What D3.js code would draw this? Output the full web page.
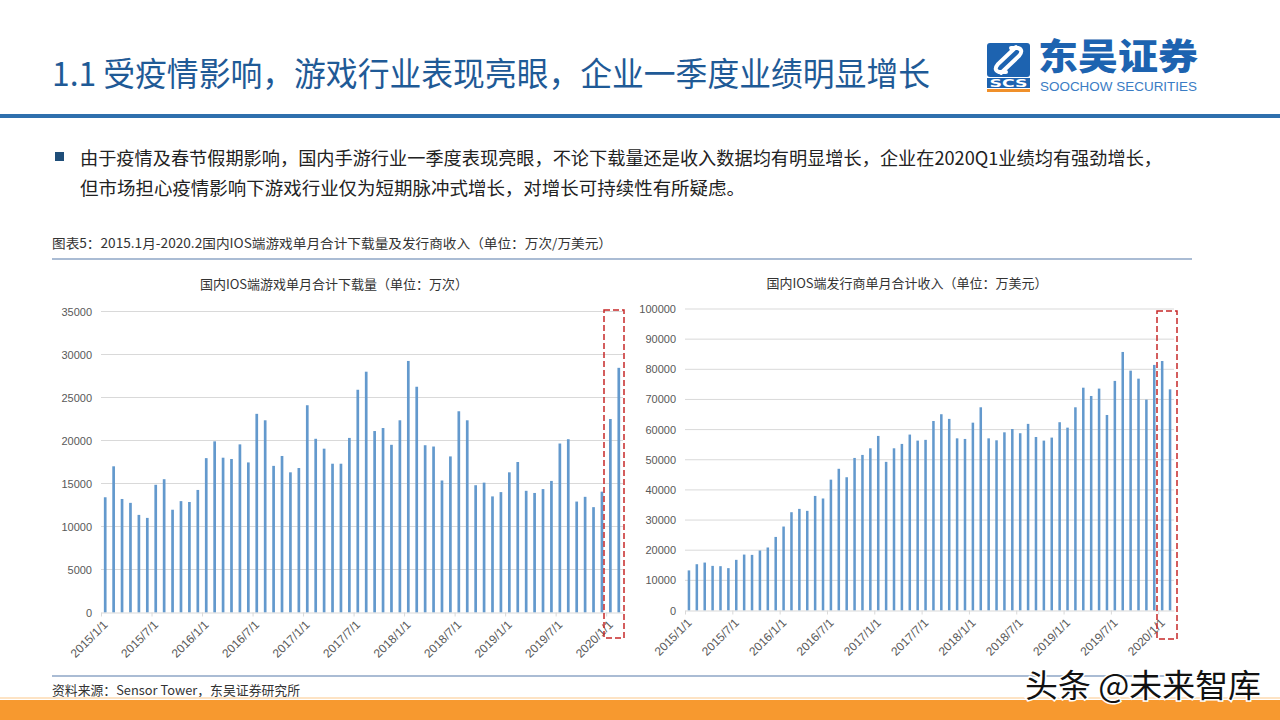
<!DOCTYPE html>
<html>
<head>
<meta charset="utf-8">
<script src="https://cdn.jsdelivr.net/npm/d3@7"></script>
<style>
  html, body { margin: 0; padding: 0; background: #fff; }
  svg { display: block; font-family: "Noto Sans CJK SC", "Noto Sans", sans-serif; }
</style>
</head>
<body>
<div id="page"></div>
<script>
// months 2015/1 .. 2020/2
var months = [
  "2015/1","2015/2","2015/3","2015/4","2015/5","2015/6","2015/7","2015/8","2015/9","2015/10","2015/11","2015/12",
  "2016/1","2016/2","2016/3","2016/4","2016/5","2016/6","2016/7","2016/8","2016/9","2016/10","2016/11","2016/12",
  "2017/1","2017/2","2017/3","2017/4","2017/5","2017/6","2017/7","2017/8","2017/9","2017/10","2017/11","2017/12",
  "2018/1","2018/2","2018/3","2018/4","2018/5","2018/6","2018/7","2018/8","2018/9","2018/10","2018/11","2018/12",
  "2019/1","2019/2","2019/3","2019/4","2019/5","2019/6","2019/7","2019/8","2019/9","2019/10","2019/11","2019/12",
  "2020/1","2020/2"
];

// 下载量 (万次)
var downloads = [
  13400,17000,13200,12750,11350,11000,14850,15500,11950,12950,12850,14250,
  17950,19900,18000,17850,19550,17450,23100,22350,17050,18200,16300,16800,
  24100,20200,19050,17300,17300,20300,25900,28000,21100,21450,19500,22350,
  29250,26250,19450,19300,15350,18150,23400,22350,14800,15100,13500,14000,
  16300,17500,14150,13900,14350,15300,19650,20150,12900,13450,12250,14050,
  22500,28450
];

// 收入 (万美元)
var revenue = [
  13300,15350,15900,14800,14700,14050,16800,18550,18450,19900,20900,24400,
  27850,32600,33700,33050,38000,37150,43400,47000,44200,50600,51600,53800,
  57900,49300,53800,55250,58350,56350,56600,62850,65100,63550,57100,56900,
  62300,67400,57100,56450,59100,60200,58800,61900,57550,56350,57350,62450,
  60650,67400,73900,71150,73600,64850,76150,85750,79550,76900,69950,81450,
  82750,73350
];

var xTickLabels = ["2015/1/1","2015/7/1","2016/1/1","2016/7/1","2017/1/1","2017/7/1",
                   "2018/1/1","2018/7/1","2019/1/1","2019/7/1","2020/1/1"];
var yTicksLeft = [0,5000,10000,15000,20000,25000,30000,35000];
var yTicksRight = [0,10000,20000,30000,40000,50000,60000,70000,80000,90000,100000];

var svg = d3.select('#page').append('svg').attr('width', 1280).attr('height', 720);

// ---- header ----
svg.append('text').attr('x', 52).attr('y', 86)
  .attr('font-size', 33).attr('fill', '#1f5a96')
  .attr('textLength', 878).attr('lengthAdjust', 'spacingAndGlyphs')
  .text('1.1 受疫情影响，游戏行业表现亮眼，企业一季度业绩明显增长');

svg.append('rect').attr('x', 0).attr('y', 114).attr('width', 1280).attr('height', 4).attr('fill', '#2e6fad');

// logo
var logo = svg.append('g');
logo.append('rect').attr('x', 987).attr('y', 43).attr('width', 43).attr('height', 34).attr('rx', 3).attr('fill', '#1d63b0');
logo.append('path')
  .attr('d', 'M1016,47 L998,64 Q993,70 999,72 L1006,72 M1001,73 L1019,56 Q1024,50 1018,48 L1011,48')
  .attr('stroke', '#fff').attr('stroke-width', 4).attr('fill', 'none').attr('stroke-linecap', 'round');
logo.append('rect').attr('x', 987).attr('y', 78).attr('width', 43).attr('height', 10).attr('fill', '#1d63b0');
logo.append('text').attr('x', 1008.5).attr('y', 87).attr('text-anchor', 'middle')
  .attr('font-size', 11).attr('font-weight', 900).attr('fill', '#fff')
  .attr('font-family', 'DejaVu Sans').attr('textLength', 38).attr('lengthAdjust', 'spacingAndGlyphs').text('SCS');
logo.append('rect').attr('x', 987).attr('y', 89).attr('width', 43).attr('height', 3).attr('fill', '#f0902a');
logo.append('text').attr('x', 1038).attr('y', 70)
  .attr('font-size', 36).attr('font-weight', 900).attr('fill', '#1d63b0')
  .attr('textLength', 160).attr('lengthAdjust', 'spacingAndGlyphs').text('东吴证券');
logo.append('text').attr('x', 1040).attr('y', 91)
  .attr('font-size', 13).attr('fill', '#3a7cc4').attr('font-family', 'Liberation Sans')
  .attr('textLength', 157).attr('lengthAdjust', 'spacingAndGlyphs').text('SOOCHOW SECURITIES');

// bullet text
svg.append('rect').attr('x', 55).attr('y', 152).attr('width', 9).attr('height', 9).attr('fill', '#1f4e79');
svg.append('text').attr('x', 80).attr('y', 165).attr('font-size', 18).attr('fill', '#222')
  .attr('textLength', 1082).attr('lengthAdjust', 'spacingAndGlyphs')
  .text('由于疫情及春节假期影响，国内手游行业一季度表现亮眼，不论下载量还是收入数据均有明显增长，企业在2020Q1业绩均有强劲增长，');
svg.append('text').attr('x', 80).attr('y', 195).attr('font-size', 18).attr('fill', '#222')
  .attr('textLength', 665).attr('lengthAdjust', 'spacingAndGlyphs')
  .text('但市场担心疫情影响下游戏行业仅为短期脉冲式增长，对增长可持续性有所疑虑。');

// caption
svg.append('text').attr('x', 52).attr('y', 248).attr('font-size', 13).attr('fill', '#333')
  .attr('textLength', 560).attr('lengthAdjust', 'spacingAndGlyphs')
  .text('图表5：2015.1月-2020.2国内IOS端游戏单月合计下载量及发行商收入（单位：万次/万美元）');
svg.append('line').attr('x1', 52).attr('x2', 1192).attr('y1', 259).attr('y2', 259)
  .attr('stroke', '#8ea6c6').attr('stroke-width', 1.5);

// ---- charts ----
function drawChart(o) {
  var g = svg.append('g');
  var x = d3.scaleBand().domain(months).range([o.x0, o.x1]).paddingInner(0.68).paddingOuter(0.34);
  var xEdge = d3.scaleLinear([0, months.length], [o.x0, o.x1]);
  var y = d3.scaleLinear([0, o.max], [o.y0, o.yTop]);

  g.append('text').attr('x', o.titleX).attr('y', o.titleY).attr('text-anchor', 'middle')
    .attr('font-size', 13).attr('fill', '#333').text(o.title);

  // grid
  g.selectAll('.grid').data(o.yTicks.slice(1)).enter().append('line')
    .attr('x1', o.x0).attr('x2', o.x1).attr('y1', d => y(d)).attr('y2', d => y(d))
    .attr('stroke', '#d9d9d9').attr('stroke-width', 1);

  var yAxis = d3.axisLeft(y).tickValues(o.yTicks).tickSize(0).tickPadding(9).tickFormat(d3.format('d'));
  var ya = g.append('g').attr('transform', `translate(${o.x0},0)`).call(yAxis);
  ya.select('.domain').remove();
  ya.selectAll('text').attr('font-size', 11).attr('fill', '#595959').attr('font-family', 'Liberation Sans');

  g.selectAll('.bar').data(o.values).enter().append('rect')
    .attr('x', (d, i) => x(months[i])).attr('width', x.bandwidth())
    .attr('y', d => y(d)).attr('height', d => o.y0 - y(d))
    .attr('fill', '#6399cd');

  var xAxis = d3.axisBottom(xEdge).tickValues(d3.range(0, months.length, 6)).tickSize(4).tickSizeOuter(0)
    .tickFormat((d, i) => xTickLabels[i]);
  var xa = g.append('g').attr('transform', `translate(0,${o.y0})`).call(xAxis);
  xa.select('.domain').attr('stroke', '#d9d9d9');
  xa.selectAll('.tick line').attr('stroke', '#d9d9d9');
  xa.selectAll('text').attr('font-size', 12).attr('fill', '#595959').attr('font-family', 'Liberation Sans')
    .attr('text-anchor', 'end').attr('dy', 0).attr('y', 0)
    .attr('transform', 'translate(7,13) rotate(-45)');

  // red dashed highlight box
  g.append('rect').attr('x', o.box[0]).attr('y', o.box[1]).attr('width', o.box[2]).attr('height', o.box[3])
    .attr('fill', 'none').attr('stroke', '#c62828').attr('stroke-width', 1.5).attr('stroke-dasharray', '6,3');
}

drawChart({
  values: downloads, yTicks: yTicksLeft, max: 35000,
  x0: 101, x1: 623, y0: 612.5, yTop: 311.5,
  title: '国内IOS端游戏单月合计下载量（单位：万次）', titleX: 334, titleY: 289,
  box: [604, 310, 20, 328]
});
drawChart({
  values: revenue, yTicks: yTicksRight, max: 100000,
  x0: 685, x1: 1174, y0: 610.5, yTop: 309,
  title: '国内IOS端发行商单月合计收入（单位：万美元）', titleX: 907, titleY: 288,
  box: [1157, 311, 20, 328]
});

// ---- footer ----
svg.append('line').attr('x1', 52).attr('x2', 1192).attr('y1', 676).attr('y2', 676)
  .attr('stroke', '#8ea6c6').attr('stroke-width', 1.5);
svg.append('text').attr('x', 52).attr('y', 695).attr('font-size', 13).attr('fill', '#333')
  .attr('textLength', 248).attr('lengthAdjust', 'spacingAndGlyphs')
  .text('资料来源：Sensor Tower，东吴证券研究所');
svg.append('rect').attr('x', 0).attr('y', 697).attr('width', 1280).attr('height', 2).attr('fill', '#fde3c4');
svg.append('rect').attr('x', 0).attr('y', 700).attr('width', 1280).attr('height', 20).attr('fill', '#f7992f');

// watermark
svg.append('text').attr('x', 1025).attr('y', 697).attr('font-size', 32).attr('fill', '#111')
  .attr('stroke', '#fff').attr('stroke-width', 3).attr('paint-order', 'stroke')
  .attr('textLength', 236).attr('lengthAdjust', 'spacingAndGlyphs')
  .text('头条 @未来智库');
</script>
</body>
</html>
